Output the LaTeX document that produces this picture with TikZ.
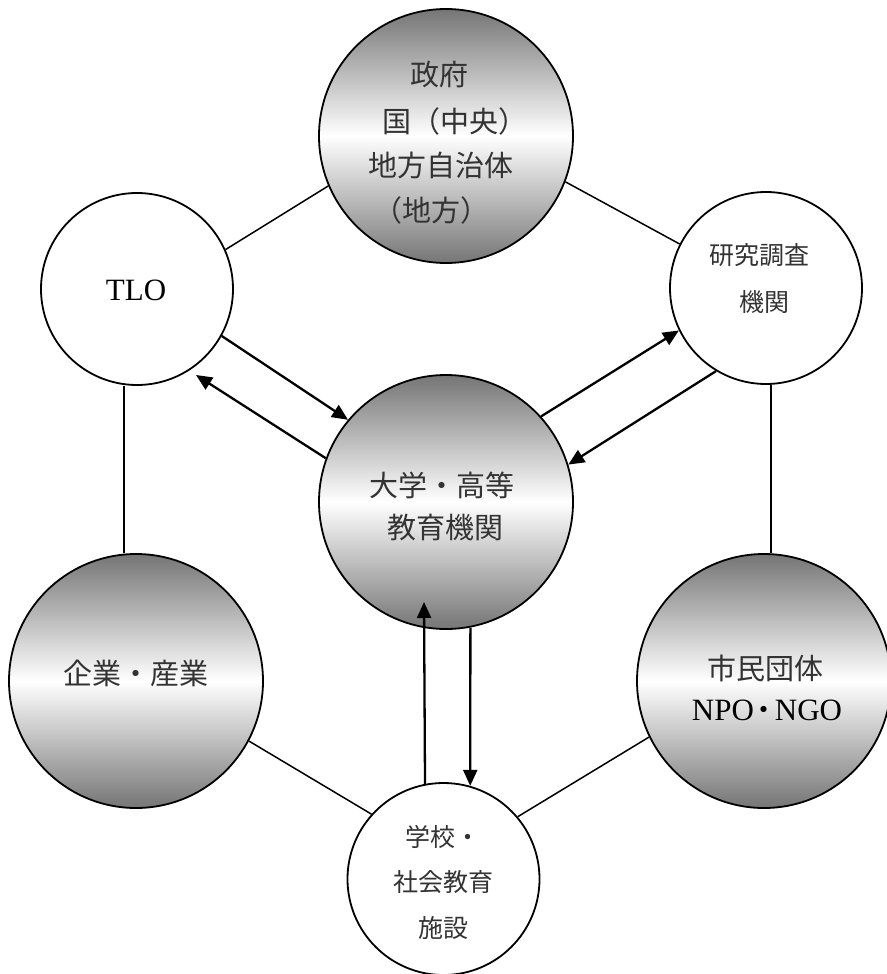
\documentclass[tikz,border=0pt]{standalone}
\usepackage{fontspec}
\newfontfamily\jp{Noto Sans CJK JP}
\newfontfamily\lat{Liberation Serif}
\usetikzlibrary{arrows.meta,calc}
\begin{document}
\begin{tikzpicture}[x=1pt,y=-1pt,
  big/.style={circle,draw,line width=1.8pt,minimum size=254pt,inner sep=0pt,
    top color=black!54,bottom color=black!54,middle color=white},
  small/.style={circle,draw,line width=1.8pt,minimum size=192pt,inner sep=0pt,fill=white},
  lab/.style={font=\jp\fontsize{29}{29}\selectfont,text=black!80,inner sep=0pt},
  slab/.style={font=\jp\fontsize{25}{25}\selectfont,text=black!80,inner sep=0pt},
  latin/.style={font=\lat\fontsize{31}{31}\selectfont,text=black,inner sep=0pt},
  link/.style={line width=1.5pt},
  arr/.style={line width=2.3pt,-{Triangle[length=16pt,width=14pt]}}]
\useasboundingbox (0,0) rectangle (886,974);

% circles
\node[big] (gov) at (446,136) {};
\node[big] (uni) at (446,502) {};
\node[big] (ind) at (136,681) {};
\node[big] (npo) at (764,681) {};
\node[small] (tlo) at (137,289) {};
\node[small] (res) at (766,288) {};
\node[small] (sch) at (443.5,879) {};

% texts
\node[lab] (g1) at (439,75) {政府};
\node[lab] (g2) at (455,121) {国（中央）};
\node[lab] (g3) at (441,165) {地方自治体};
\node[lab] (g4) at (431,210) {（地方）};
\node[lab] (u1t) at (442,485) {大学・高等};
\node[lab] (u2t) at (445,528) {教育機関};
\node[lab] (i1t) at (136,673) {企業・産業};
\node[lab] (n1t) at (765,668) {市民団体};
\node[latin] (n2t) at (767,710) {NPO{\jp\fontsize{29}{29}\selectfont\hspace{-4pt}・\hspace{-4pt}}NGO};
\node[latin] (t1t) at (136,290) {TLO};
\node[slab] (r1t) at (759,255) {研究調査};
\node[slab] (r2t) at (764,302) {機関};
\node[slab] (s1t) at (443,837) {学校・};
\node[slab] (s2t) at (443,882) {社会教育};
\node[slab] (s3t) at (443,928) {施設};

% plain links
\draw[link] (tlo.24.4) -- (gov.203.6);
\draw[link] (gov.-21.2) -- (res.153.9);
\draw[link] ([xshift=-13pt]tlo.south) -- ([xshift=-12pt]ind.north);
\draw[link] ([xshift=5pt]res.south) -- ([xshift=7pt]npo.north);
\draw[link] (ind.-28.4) -- (sch.138);
\draw[link] (npo.206.6) -- (sch.40);

% arrows
\coordinate (tipTLO) at (196,375);
\coordinate (tipUni) at (424,602);
\draw[arr] (tlo.-29.5) -- (uni.140);
\draw[arr] (uni.160.6) -- (tipTLO);
\draw[arr] (uni.42.8) -- (res.206.8);
\draw[arr] (res.239.6) -- (uni.17);
\draw[arr] (sch.101.7) -- (tipUni);
\draw[arr] (uni.-79.2) -- (sch.74);
\end{tikzpicture}
\end{document}
